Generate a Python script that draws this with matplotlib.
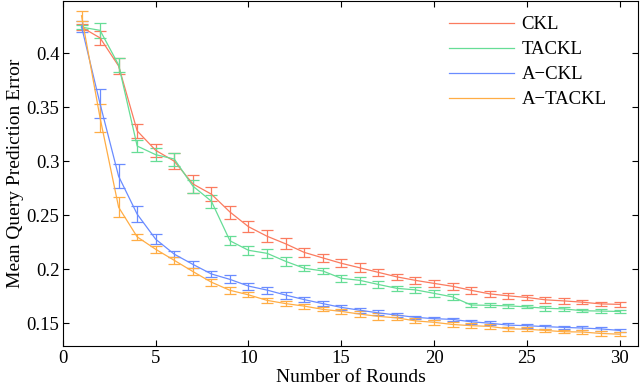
import matplotlib
matplotlib.use("Agg")
import matplotlib.pyplot as plt

plt.rcParams['font.family'] = ['Liberation Serif', 'DejaVu Serif']

rounds = list(range(1, 31))

ckl = [0.424, 0.414, 0.388, 0.328, 0.310, 0.300, 0.279, 0.2695, 0.253, 0.2394,
       0.2306, 0.2236, 0.2157, 0.2106, 0.2056, 0.2014, 0.1972, 0.193, 0.1898, 0.187,
       0.1843, 0.1806, 0.1773, 0.1755, 0.174, 0.1718, 0.1708, 0.1696, 0.168, 0.1676]
ckl_err = [0.003, 0.0065, 0.0074, 0.0065, 0.006, 0.0074, 0.008, 0.0065, 0.006, 0.005,
           0.0055, 0.005, 0.004, 0.004, 0.0037, 0.004, 0.003, 0.0025, 0.003, 0.003,
           0.003, 0.003, 0.0025, 0.0025, 0.002, 0.0025, 0.0025, 0.002, 0.002, 0.002]

tackl = [0.424, 0.421, 0.389, 0.314, 0.306, 0.302, 0.277, 0.263, 0.2264, 0.2176,
         0.2148, 0.2074, 0.201, 0.1985, 0.1917, 0.1898, 0.186, 0.1824, 0.181, 0.1778,
         0.1745, 0.167, 0.1667, 0.1662, 0.1653, 0.164, 0.1634, 0.1617, 0.1614, 0.161]
tackl_err = [0.002, 0.007, 0.0065, 0.0055, 0.006, 0.006, 0.006, 0.006, 0.004, 0.004,
             0.004, 0.004, 0.003, 0.003, 0.003, 0.003, 0.003, 0.002, 0.0025, 0.003,
             0.0025, 0.002, 0.002, 0.002, 0.0015, 0.0025, 0.002, 0.0015, 0.0015, 0.0013]

a_ckl = [0.4245, 0.353, 0.286, 0.251, 0.2278, 0.214, 0.2046, 0.1957, 0.1907, 0.1845,
         0.1808, 0.1762, 0.172, 0.1683, 0.1648, 0.1622, 0.1597, 0.1577, 0.1556, 0.1544,
         0.1537, 0.1515, 0.1502, 0.1484, 0.1479, 0.147, 0.1463, 0.1457, 0.1449, 0.1435]
a_ckl_err = [0.0054, 0.0134, 0.011, 0.0075, 0.0046, 0.003, 0.003, 0.0032, 0.0037, 0.0032,
             0.0032, 0.0032, 0.0023, 0.0023, 0.002, 0.0023, 0.0023, 0.002, 0.0015, 0.0015,
             0.0015, 0.002, 0.002, 0.002, 0.0018, 0.0018, 0.0017, 0.0015, 0.0015, 0.0015]

a_tackl = [0.4345, 0.340, 0.2574, 0.230, 0.2185, 0.2083, 0.198, 0.1881, 0.1806, 0.1764,
           0.1713, 0.1683, 0.166, 0.163, 0.1611, 0.1586, 0.1565, 0.1551, 0.1523, 0.151,
           0.149, 0.1479, 0.1472, 0.145, 0.1446, 0.1435, 0.1423, 0.142, 0.1407, 0.140]
a_tackl_err = [0.0046, 0.013, 0.0093, 0.003, 0.003, 0.003, 0.003, 0.0032, 0.003, 0.0023,
               0.0023, 0.0023, 0.0023, 0.002, 0.002, 0.003, 0.003, 0.0023, 0.0023, 0.0023,
               0.0023, 0.002, 0.002, 0.002, 0.002, 0.0015, 0.0015, 0.0015, 0.002, 0.002]

series = [
    ("CKL", ckl, ckl_err, "#fb7b5f"),
    ("TACKL", tackl, tackl_err, "#66dd96"),
    ("A\u2212CKL", a_ckl, a_ckl_err, "#6a8cff"),
    ("A\u2212TACKL", a_tackl, a_tackl_err, "#ffad45"),
]

fig = plt.figure(figsize=(6.4, 3.88), dpi=100)
ax = fig.add_axes([0.0984, 0.108, 0.8986, 0.889])

for name, vals, err, col in series:
    ax.errorbar(rounds, vals, yerr=err, color=col, linewidth=0.9,
                elinewidth=0.9, capsize=4.5, capthick=0.9, label=name)

ax.set_xlim(0, 31)
ax.set_ylim(0.129, 0.448)
ax.set_xticks([0, 5, 10, 15, 20, 25, 30])
ax.set_yticks([0.15, 0.2, 0.25, 0.3, 0.35, 0.4])
ax.set_yticklabels(["0.15", "0.2", "0.25", "0.3", "0.35", "0.4"])
ax.tick_params(direction='in', top=True, right=True, length=4, width=0.8,
               labelsize=13.5, pad=2.5)
for s in ax.spines.values():
    s.set_linewidth(0.8)

ax.set_xlabel("Number of Rounds", fontsize=14, labelpad=2)
ax.set_ylabel("Mean Query Prediction Error", fontsize=14, labelpad=2)

handles, labels = ax.get_legend_handles_labels()
handles = [h[0] for h in handles]
ax.legend(handles, labels, loc='upper right', frameon=False, fontsize=13.5,
          handlelength=3.5, handletextpad=0.4, labelspacing=0.42,
          bbox_to_anchor=(0.975, 1.005))

fig.savefig("out.png", dpi=100)
